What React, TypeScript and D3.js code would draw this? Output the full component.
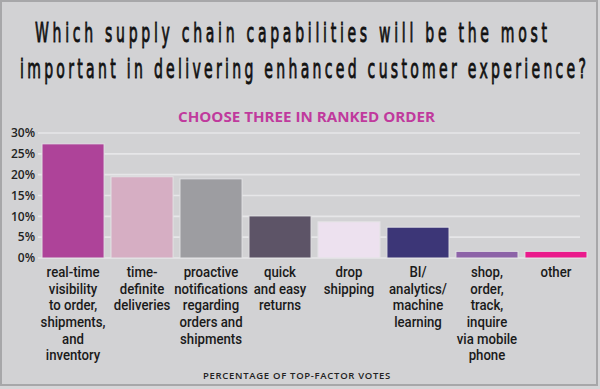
import React from "react";
import * as d3 from "d3";

const categories: string[][] = [
  ["real-time", "visibility", "to order,", "shipments,", "and", "inventory"],
  ["time-", "definite", "deliveries"],
  ["proactive", "notifications", "regarding", "orders and", "shipments"],
  ["quick", "and easy", "returns"],
  ["drop", "shipping"],
  ["BI/", "analytics/", "machine", "learning"],
  ["shop,", "order,", "track,", "inquire", "via mobile", "phone"],
  ["other"],
];
const values: number[] = [27.4, 19.5, 19.0, 10.1, 8.7, 7.4, 1.6, 1.6];
const colors: string[] = ["#ae4399", "#d6aec3", "#9d9da1", "#5d5467", "#ede1ef", "#3c3677", "#8d63a8", "#ea1a8c"];
const yTicks: number[] = [0, 5, 10, 15, 20, 25, 30];

const titleLines = [
  "Which supply chain capabilities will be the most",
  "important in delivering enhanced customer experience?",
];
const subtitle = "CHOOSE THREE IN RANKED ORDER";
const axisTitle = "PERCENTAGE OF TOP-FACTOR VOTES";

export default function App() {
  const W = 600, H = 389;
  const ids = categories.map((_, i) => String(i));
  const x = d3.scaleBand<string>().domain(ids).range([42, 587]).paddingInner(0.1).paddingOuter(0);
  const y = d3.scaleLinear().domain([0, 30]).range([258, 133]);
  const labelFont = "'Roboto', sans-serif";
  const ts = 0.54;

  return (
    <svg width={W} height={H} style={{ position: "absolute", left: 0, top: 0 }}>
      <rect x={0} y={0} width={W} height={H} fill="#d6d6d8" />
      <rect x={1} y={1} width={596} height={384} fill="#d2d2d4" stroke="#a7a7a9" strokeWidth={2} />
      <g transform={`scale(${ts},1)`} fontFamily="'DejaVu Sans', sans-serif" fontWeight={400} fontSize={26} fill="#111" stroke="#111" strokeWidth={0.9}>
        <text x={35 / ts} y={42} textLength={512 / ts} lengthAdjust="spacing">{titleLines[0]}</text>
        <text x={20 / ts} y={78} textLength={566 / ts} lengthAdjust="spacing">{titleLines[1]}</text>
      </g>
      <text x={178} y={122} textLength={257} lengthAdjust="spacingAndGlyphs" fontFamily="'Open Sans', sans-serif" fontWeight={700} fontSize={15} fill="#c03a9d">{subtitle}</text>
      {yTicks.map((t) => (
        <g key={t}>
          <line x1={38} x2={580} y1={y(t)} y2={y(t)} stroke="#e6e6e8" strokeWidth={1.6} />
          <text x={35} y={y(t)} dy="0.35em" textAnchor="end" fontFamily="'Open Sans', sans-serif" fontWeight={600} fontSize={12} fill="#222">{t}%</text>
        </g>
      ))}
      {values.map((v, i) => (
        <rect key={i} x={x(ids[i])} y={y(v)} width={x.bandwidth()} height={y(0) - y(v)} fill={colors[i]} stroke="#e2e2e4" strokeWidth={1} />
      ))}
      {categories.map((lines, i) => (
        <g key={i} transform={`translate(${(x(ids[i]) as number) + x.bandwidth() / 2},0) scale(0.88,1)`}>
          <text textAnchor="middle" fontFamily={labelFont} fontWeight={500} fontSize={15} fill="#1a1a1a">
            {lines.map((l, j) => (
              <tspan key={j} x={0} y={277 + j * 16.7}>{l}</tspan>
            ))}
          </text>
        </g>
      ))}
      <text x={297} y={379} textAnchor="middle" fontFamily="'Open Sans', sans-serif" fontWeight={600} fontSize={9.5} letterSpacing={0.7} fill="#222">{axisTitle}</text>
    </svg>
  );
}
